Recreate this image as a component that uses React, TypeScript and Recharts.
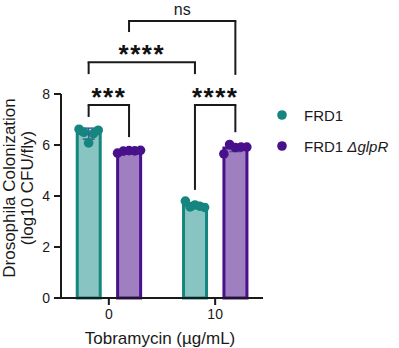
import {
  ComposedChart,
  Bar,
  Cell,
  Scatter,
  XAxis,
  YAxis,
  ErrorBar,
  ReferenceLine,
  ReferenceDot,
} from 'recharts';

// doses on the x axis
const doseLabels = ['0', '10'];

// individual flies, log10 CFU/fly, one list per dose
const frd1Values = [
  [6.62, 6.5, 6.08, 6.45, 6.58],
  [3.8, 3.57, 3.65, 3.6, 3.55],
];
const glpRValues = [
  [5.68, 5.76, 5.78, 5.77, 5.79],
  [5.65, 6.02, 5.9, 5.92, 5.92],
];

// horizontal spread of the dots inside a bar
const jitter = [-0.09, -0.045, 0, 0.045, 0.09];

// significance brackets: [dose, strain] pairs, label, and heights
const comparisons = [
  { a: [0, 0], b: [0, 1], label: '***', top: 7.57, endA: 7.1, endB: 6.31, textY: 8.1 },
  { a: [1, 0], b: [1, 1], label: '****', top: 7.57, endA: 4.24, endB: 6.5, textY: 8.1 },
  { a: [0, 0], b: [1, 0], label: '****', top: 9.25, endA: 8.78, endB: 8.78, textY: 9.8 },
  { a: [0, 1], b: [1, 1], label: 'ns', top: 10.86, endA: 10.43, endB: 8.75, textY: 11.35 },
];

const TEAL = '#15857f';
const TEAL_FILL = '#88c4c1';
const PURPLE = '#48108a';
const PURPLE_FILL = '#a07fc1';
const INK = '#1a1a1a';
const BAR_SHIFT = 0.19;
const BAR_W = 26;

const mean = (v: number[]) => v.reduce((s, x) => s + x, 0) / v.length;
const sd = (v: number[]) => {
  const m = mean(v);
  return Math.sqrt(v.reduce((s, x) => s + (x - m) ** 2, 0) / (v.length - 1));
};
const barX = (dose: number, strain: number) => dose + (strain === 0 ? -BAR_SHIFT : BAR_SHIFT);

const barData = doseLabels.flatMap((_, i) => [
  { x: barX(i, 0), mean: mean(frd1Values[i]), sd: sd(frd1Values[i]), strain: 0 },
  { x: barX(i, 1), mean: mean(glpRValues[i]), sd: sd(glpRValues[i]), strain: 1 },
]);

const frd1Dots = frd1Values.flatMap((vals, i) =>
  vals.map((y, j) => ({ x: barX(i, 0) + jitter[j], y }))
);
const glpRDots = glpRValues.flatMap((vals, i) =>
  vals.map((y, j) => ({ x: barX(i, 1) + jitter[j] * 1.2, y }))
);

const dot = (color: string) => (p: any) => (
  <circle cx={p.cx} cy={p.cy} r={4.8} fill={color} />
);

// recharts squeezes bars on a number axis; keep the centre, widen to BAR_W
const BarShape = (p: any) => {
  const cx = p.x + p.width / 2;
  const d = p.payload;
  return (
    <rect
      x={cx - BAR_W / 2 + 1.5}
      y={p.y}
      width={BAR_W - 3}
      height={p.height}
      fill={d.strain === 0 ? TEAL_FILL : PURPLE_FILL}
      stroke={d.strain === 0 ? TEAL : PURPLE}
      strokeWidth={3}
    />
  );
};

export default function App() {
  return (
    <div
      style={{
        position: 'absolute',
        top: 0,
        left: 0,
        width: 399,
        height: 348,
        fontFamily: '"Liberation Sans", Arial, sans-serif',
        background: '#fff',
      }}
    >
      <ComposedChart
        width={399}
        height={348}
        data={barData}
        margin={{ top: 94, right: 136, bottom: 20, left: 1 }}
      >
        <Bar dataKey="mean" shape={BarShape} isAnimationActive={false}>
          {barData.map((d, i) => (
            <Cell key={i} fill={d.strain === 0 ? TEAL_FILL : PURPLE_FILL} />
          ))}
          <ErrorBar dataKey="sd" width={6} stroke="#3f5a96" strokeWidth={1.5} />
        </Bar>
        <XAxis
          type="number"
          dataKey="x"
          domain={[-0.45, 1.45]}
          ticks={[0, 1]}
          tickFormatter={(v: number) => doseLabels[v]}
          allowDataOverflow
          height={30}
          stroke={INK}
          strokeWidth={2}
          tickSize={7}
          tickMargin={4}
          tick={{ fill: INK, fontSize: 14 }}
        />
        <YAxis
          type="number"
          domain={[0, 8]}
          ticks={[0, 2, 4, 6, 8]}
          width={60}
          stroke={INK}
          strokeWidth={2}
          tickSize={7}
          tickMargin={4}
          tick={{ fill: INK, fontSize: 14 }}
        />
        <Scatter data={frd1Dots} dataKey="y" shape={dot(TEAL)} isAnimationActive={false} />
        <Scatter data={glpRDots} dataKey="y" shape={dot(PURPLE)} isAnimationActive={false} />

        {comparisons.map((c, i) => {
          const xa = barX(c.a[0], c.a[1]);
          const xb = barX(c.b[0], c.b[1]);
          return [
            <ReferenceLine
              key={`l${i}`}
              segment={[{ x: xa, y: c.endA }, { x: xa, y: c.top }]}
              stroke={INK}
              strokeWidth={2}
              ifOverflow="visible"
            />,
            <ReferenceLine
              key={`t${i}`}
              segment={[{ x: xa, y: c.top }, { x: xb, y: c.top }]}
              stroke={INK}
              strokeWidth={2}
              strokeLinecap="square"
              ifOverflow="visible"
            />,
            <ReferenceLine
              key={`r${i}`}
              segment={[{ x: xb, y: c.top }, { x: xb, y: c.endB }]}
              stroke={INK}
              strokeWidth={2}
              ifOverflow="visible"
            />,
            <ReferenceDot
              key={`d${i}`}
              x={(xa + xb) / 2}
              y={c.textY}
              r={0}
              ifOverflow="visible"
              shape={(p: any) =>
                c.label === 'ns' ? (
                  <text x={p.cx} y={p.cy + 6} textAnchor="middle" fontSize={16} fill={INK}>
                    {c.label}
                  </text>
                ) : (
                  <text
                    x={p.cx}
                    y={p.cy + 15}
                    textAnchor="middle"
                    fontSize={26}
                    fontWeight="bold"
                    letterSpacing={1.5}
                    fill="#111"
                  >
                    {c.label}
                  </text>
                )
              }
            />,
          ];
        })}
      </ComposedChart>

      <svg
        width={399}
        height={348}
        style={{ position: 'absolute', top: 0, left: 0, pointerEvents: 'none' }}
      >
        <text
          transform="translate(15,188) rotate(-90)"
          textAnchor="middle"
          fontSize={17}
          fill={INK}
        >
          Drosophila Colonization
        </text>
        <text
          transform="translate(33,188) rotate(-90)"
          textAnchor="middle"
          fontSize={17}
          fill={INK}
        >
          (log10 CFU/fly)
        </text>
        <text x={160} y={344} textAnchor="middle" fontSize={17} fill={INK}>
          Tobramycin (µg/mL)
        </text>

        <circle cx={282} cy={115} r={4.8} fill={TEAL} />
        <text x={304} y={120.5} fontSize={15} fill={INK}>
          FRD1
        </text>
        <circle cx={282} cy={146} r={4.8} fill={PURPLE} />
        <text x={304} y={151.5} fontSize={15} fill={INK}>
          FRD1 <tspan fontStyle="italic">ΔglpR</tspan>
        </text>
      </svg>
    </div>
  );
}
